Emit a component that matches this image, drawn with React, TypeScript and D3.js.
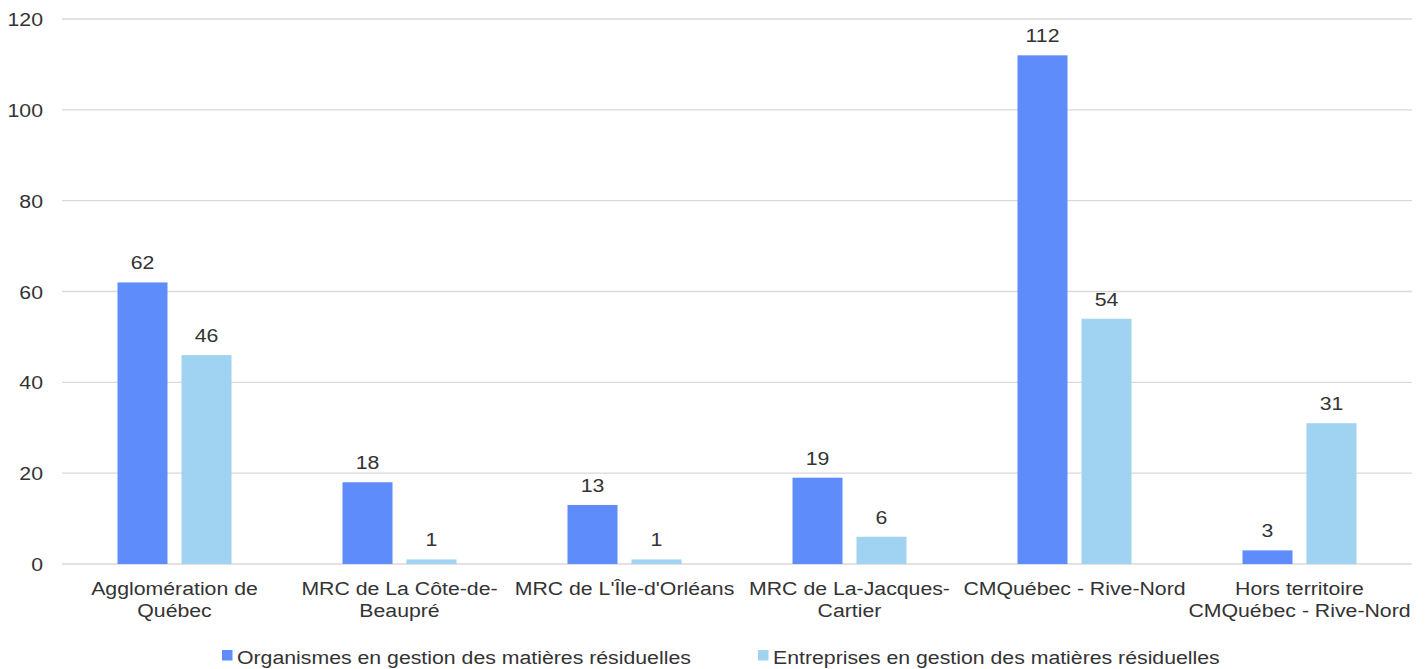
import React from "react";
import * as d3 from "d3";

const categories: string[][] = [
  ["Agglomération de", "Québec"],
  ["MRC de La Côte-de-", "Beaupré"],
  ["MRC de L'Île-d'Orléans"],
  ["MRC de La-Jacques-", "Cartier"],
  ["CMQuébec - Rive-Nord"],
  ["Hors territoire", "CMQuébec - Rive-Nord"],
];
const organismes = [62, 18, 13, 19, 112, 3];
const entreprises = [46, 1, 1, 6, 54, 31];
const seriesNames = [
  "Organismes en gestion des matières résiduelles",
  "Entreprises en gestion des matières résiduelles",
];
const yTicks = [0, 20, 40, 60, 80, 100, 120];

const COLORS = ["#5E8CFA", "#A0D2F2"];
const FONT = "'Liberation Sans', Arial, sans-serif";
const FS = 19;
const SX = 1.12;

function T({ x, y, anchor = "start", children }: { x: number; y: number; anchor?: string; children: React.ReactNode }) {
  return (
    <text transform={`translate(${x},${y}) scale(${SX},1)`} textAnchor={anchor} fontSize={FS} fill="#333">
      {children}
    </text>
  );
}

export default function App() {
  const W = 1427, H = 669;
  const left = 62, right = 1412, top = 19, bottom = 564;
  const x = d3.scaleBand<number>().domain(d3.range(categories.length)).range([left, right]);
  const y = d3.scaleLinear().domain([0, 120]).range([bottom, top]);
  const barW = 50, gap = 14;
  const series = [organismes, entreprises];

  return (
    <svg width={W} height={H} style={{ position: "absolute", left: 0, top: 0, background: "#fff" }} fontFamily={FONT}>
      {yTicks.map((t) => (
        <g key={t}>
          <line x1={left} x2={right} y1={y(t)} y2={y(t)} stroke="#d9d9d9" strokeWidth={1.3} />
          <T x={43} y={y(t) + 7} anchor="end">{t}</T>
        </g>
      ))}
      {series.map((vals, si) =>
        vals.map((v, i) => {
          const cx = x(i)! + x.bandwidth() / 2;
          const bx = si === 0 ? cx - gap / 2 - barW : cx + gap / 2;
          return (
            <g key={`${si}-${i}`}>
              <rect x={bx} y={y(v)} width={barW} height={y(0) - y(v)} fill={COLORS[si]} />
              <T x={bx + barW / 2} y={y(v) - 13} anchor="middle">{v}</T>
            </g>
          );
        })
      )}
      {categories.map((lines, i) =>
        lines.map((l, j) => (
          <T key={`${i}-${j}`} x={x(i)! + x.bandwidth() / 2} y={595 + j * 21.5} anchor="middle">{l}</T>
        ))
      )}
      {seriesNames.map((n, si) => {
        const lx = si === 0 ? 222 : 758;
        return (
          <g key={n}>
            <rect x={lx} y={650} width={10.5} height={10.5} fill={COLORS[si]} />
            <T x={lx + 15} y={664}>{n}</T>
          </g>
        );
      })}
    </svg>
  );
}
